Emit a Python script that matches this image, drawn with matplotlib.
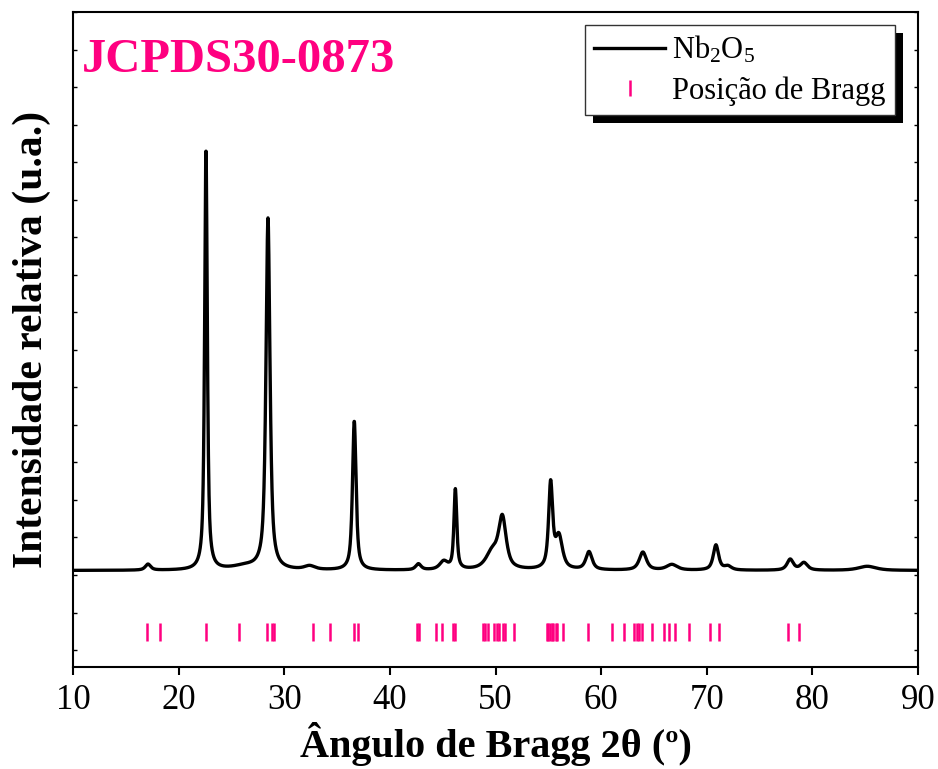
import numpy as np
import matplotlib
matplotlib.use("Agg")
import matplotlib.pyplot as plt
from matplotlib.patches import Rectangle
from matplotlib.transforms import IdentityTransform
from matplotlib.ticker import MultipleLocator

plt.rcParams['font.family'] = ['Liberation Serif', 'DejaVu Serif']
plt.rcParams['mathtext.fontset'] = 'custom'
plt.rcParams['mathtext.rm'] = 'Liberation Serif'
plt.rcParams['mathtext.it'] = 'Liberation Serif:italic'
plt.rcParams['mathtext.bf'] = 'Liberation Serif:bold'

# Nb2O5 diffraction pattern described by its reflections
peak_pos = [17.1, 22.59, 26.3, 28.46, 32.4, 36.63, 42.7, 45.1, 46.2, 49.7,
            50.65, 55.22, 56.0, 58.85, 63.95, 66.7, 70.87, 72.0, 77.9, 79.2, 85.2]
peak_height = [1.6, 112.0, 1.0, 93.6, 1.0, 39.7, 1.6, 2.2, 21.3, 4.5,
               13.3, 22.5, 8.6, 4.8, 4.8, 1.5, 6.7, 1.0, 2.9, 2.0, 1.1]
peak_fwhm = [0.6, 0.3, 3.0, 0.45, 1.2, 0.4, 0.6, 0.9, 0.32, 1.4,
             0.85, 0.45, 0.8, 0.7, 0.8, 1.2, 0.6, 0.8, 0.7, 0.8, 2.0]
lorentz_fraction = 0.75
background = 21.2

# JCPDS 30-0873 reference reflections (2θ)
bragg_pos = [16.97, 18.2, 22.59, 25.72, 28.4, 28.87, 29.05, 32.75, 34.33, 36.6,
             36.95, 42.54, 42.79, 44.37, 44.9, 45.94, 46.2, 48.79, 49.0, 49.26,
             49.86, 50.11, 50.36, 50.74, 50.93, 51.75, 54.85, 55.0, 55.16, 55.32,
             55.47, 55.7, 55.85, 56.36, 58.72, 61.0, 62.17, 63.1, 63.37, 63.56,
             63.84, 64.79, 65.95, 66.46, 67.02, 68.32, 70.31, 71.13, 77.72, 78.76]
bragg_level = 4.8

x_ticks = [10, 20, 30, 40, 50, 60, 70, 80, 90]

PINK = '#FF0080'


def pseudo_voigt(x, x0, h, w, eta):
    g = np.exp(-4 * np.log(2) * ((x - x0) / w) ** 2)
    lor = 1.0 / (1.0 + 4 * ((x - x0) / w) ** 2)
    return h * (eta * lor + (1 - eta) * g)


two_theta = np.linspace(10, 90, 4001)
intensity = np.full_like(two_theta, background)
for p, h, w in zip(peak_pos, peak_height, peak_fwhm):
    intensity += pseudo_voigt(two_theta, p, h, w, lorentz_fraction)

fig = plt.figure(figsize=(9.38, 7.69), dpi=100)
ax = fig.add_axes([73 / 938, 1 - 667 / 769, 845 / 938, 655 / 769])

ax.plot(two_theta, intensity, color='black', lw=2.4, label='Nb$_2$O$_5$',
        solid_joinstyle='round')
ax.plot(bragg_pos, [bragg_level] * len(bragg_pos), linestyle='none',
        marker='|', markersize=13, markeredgewidth=1.8, color=PINK,
        label='Posição de Bragg')

ax.set_xlim(10, 90)
ax.set_ylim(-4.53, 170.1)
ax.set_xticks(x_ticks)
ax.yaxis.set_major_locator(MultipleLocator(10))
ax.tick_params(axis='x', which='major', direction='out', length=6, width=1.5,
               labelsize=25, pad=6, top=False)
ax.tick_params(axis='y', which='major', direction='in', length=3, width=1.0,
               left=True, right=True, labelleft=False)
for sp in ax.spines.values():
    sp.set_linewidth(1.5)

ax.set_xlabel('Ângulo de Bragg 2θ (º)', fontsize=29, fontweight='bold', labelpad=4)
ax.set_ylabel('Intensidade relativa (u.a.)', fontsize=30, fontweight='bold', labelpad=16)

ax.text(0.011, 0.908, 'JCPDS30-0873', transform=ax.transAxes, color=PINK,
        fontsize=35, fontweight='bold', va='baseline', ha='left')

leg = ax.legend(loc='upper right', bbox_to_anchor=(0.9728, 0.980),
                borderaxespad=0, fontsize=22, frameon=True, fancybox=False,
                edgecolor='#333333', framealpha=1, handlelength=2.3,
                handletextpad=0.25, borderpad=0.3, labelspacing=0.35,
                markerscale=0.85)
leg.get_frame().set_linewidth(1.0)
leg.set_zorder(6)

# solid black drop shadow behind the legend box
fig.canvas.draw()
bb = leg.get_window_extent()
shadow = Rectangle((bb.x0 + 8, bb.y0 - 8), bb.width, bb.height,
                   transform=IdentityTransform(), facecolor='black',
                   edgecolor='none', zorder=5.5)
ax.add_artist(shadow)

fig.savefig('out.png', dpi=100)
